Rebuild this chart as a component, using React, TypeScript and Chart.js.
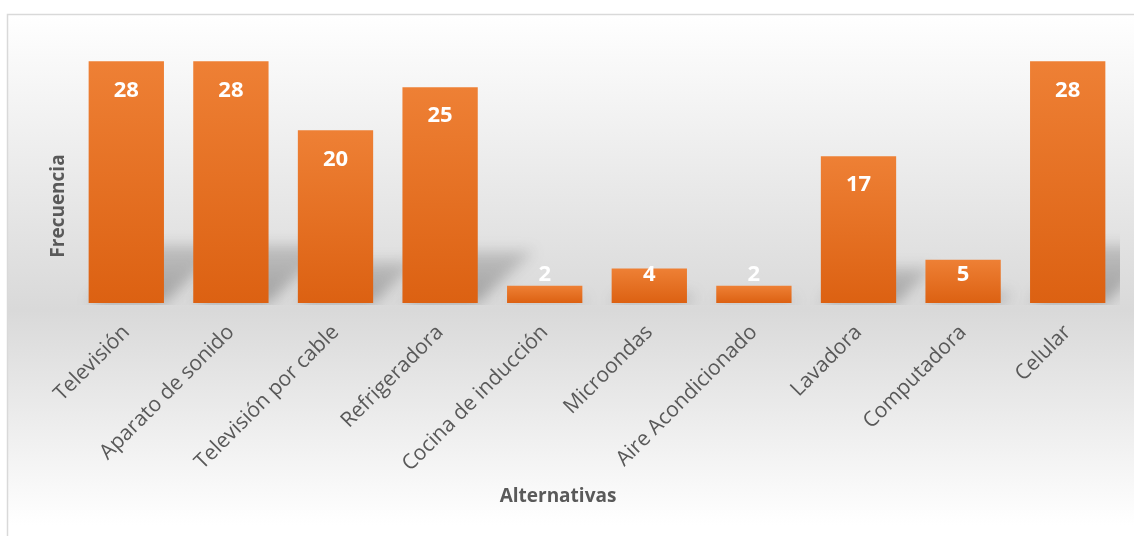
import React, { useEffect, useRef } from "react";
import { Chart, registerables } from "chart.js";

Chart.register(...registerables);

const categories = [
  "Televisión",
  "Aparato de sonido",
  "Televisión por cable",
  "Refrigeradora",
  "Cocina de inducción",
  "Microondas",
  "Aire Acondicionado",
  "Lavadora",
  "Computadora",
  "Celular",
];
const frecuencia = [28, 28, 20, 25, 2, 4, 2, 17, 5, 28];
const xTitle = "Alternativas";
const yTitle = "Frecuencia";

const FONT = "'Open Sans', 'DejaVu Sans', sans-serif";
const TEXT = "#595959";

const backgroundPlugin = {
  id: "bgPanel",
  beforeDraw(chart: any) {
    const ctx = chart.ctx;
    const x0 = 7, y0 = 14, x1 = chart.width + 5, y1 = chart.height + 5;
    ctx.save();
    const g = ctx.createLinearGradient(0, y0, 0, y1);
    g.addColorStop(0, "#ffffff");
    g.addColorStop((310 - y0) / (y1 - y0), "#d9d9d9");
    g.addColorStop((525 - y0) / (y1 - y0), "#ffffff");
    g.addColorStop(1, "#ffffff");
    ctx.fillStyle = g;
    ctx.fillRect(x0, y0, x1 - x0, y1 - y0);
    ctx.strokeStyle = "#d9d9d9";
    ctx.lineWidth = 1.5;
    ctx.strokeRect(x0 + 0.5, y0 + 0.5, x1 - x0, y1 - y0);
    ctx.restore();
  },
};

const shadowPlugin = {
  id: "barShadow",
  beforeDatasetsDraw(chart: any) {
    const ctx = chart.ctx;
    const area = chart.chartArea;
    const meta = chart.getDatasetMeta(0);
    ctx.save();
    ctx.beginPath();
    ctx.rect(area.left, area.top, area.right - area.left, area.bottom - area.top + 2);
    ctx.clip();
    ctx.filter = "blur(7px)";
    meta.data.forEach((bar: any) => {
      const p = bar.getProps(["x", "y", "base", "width"], true);
      const h = p.base - p.y;
      const sh = h * 0.24;
      const shift = h * 0.26;
      const l = p.x - p.width / 2;
      const r = p.x + p.width / 2;
      const g = ctx.createLinearGradient(0, p.base, 0, p.base - sh);
      g.addColorStop(0, "rgba(90,90,90,0.45)");
      g.addColorStop(1, "rgba(90,90,90,0.25)");
      ctx.fillStyle = g;
      ctx.beginPath();
      ctx.moveTo(l, p.base);
      ctx.lineTo(r, p.base);
      ctx.lineTo(r + shift, p.base - sh);
      ctx.lineTo(l + shift, p.base - sh);
      ctx.closePath();
      ctx.fill();
    });
    ctx.restore();
  },
};

const labelPlugin = {
  id: "barLabels",
  afterDatasetsDraw(chart: any) {
    const ctx = chart.ctx;
    const meta = chart.getDatasetMeta(0);
    const data = chart.data.datasets[0].data;
    ctx.save();
    ctx.fillStyle = "#ffffff";
    ctx.font = `bold 22px ${FONT}`;
    ctx.textAlign = "center";
    ctx.textBaseline = "middle";
    meta.data.forEach((bar: any, i: number) => {
      const p = bar.getProps(["x", "y", "base"], true);
      const y = Math.min(p.y + 29, p.base - 28);
      ctx.fillText(String(data[i]), p.x, y);
    });
    ctx.restore();
  },
};

const titlePlugin = {
  id: "axisTitles",
  afterDraw(chart: any) {
    const ctx = chart.ctx;
    ctx.save();
    ctx.fillStyle = TEXT;
    ctx.font = `bold 19px ${FONT}`;
    ctx.textAlign = "center";
    ctx.textBaseline = "middle";
    ctx.fillText(xTitle, 558, 497);
    ctx.translate(59, 206);
    ctx.rotate(-Math.PI / 2);
    ctx.fillText(yTitle, 0, 0);
    ctx.restore();
  },
};

export default function App() {
  const ref = useRef<HTMLCanvasElement | null>(null);

  useEffect(() => {
    if (!ref.current) return;
    const chart = new Chart(ref.current, {
      type: "bar",
      data: {
        labels: categories,
        datasets: [
          {
            label: yTitle,
            data: frecuencia,
            barPercentage: 0.72,
            categoryPercentage: 1,
            backgroundColor: (c: any) => {
              const chart = c.chart;
              const ys = chart.scales && chart.scales.y;
              if (!ys || !chart.chartArea || c.raw === undefined) return "#e8722a";
              const top = ys.getPixelForValue(c.raw);
              const base = ys.getPixelForValue(0);
              const g = chart.ctx.createLinearGradient(0, top, 0, base);
              g.addColorStop(0, "#ee8035");
              g.addColorStop(1, "#dc6112");
              return g;
            },
          },
        ],
      },
      options: {
        responsive: false,
        animation: false,
        maintainAspectRatio: false,
        layout: { padding: { left: 74, right: 14, top: 44, bottom: 0 } },
        plugins: {
          legend: { display: false },
          tooltip: { enabled: false },
          title: { display: false },
        },
        scales: {
          y: {
            display: false,
            min: 0,
            max: 30,
          },
          x: {
            grid: { display: false },
            border: { display: false },
            ticks: {
              color: TEXT,
              font: { family: FONT, size: 21 },
              minRotation: 45,
              maxRotation: 45,
              autoSkip: false,
              padding: 9,
            },
            afterFit: (scale: any) => {
              scale.height = 233;
            },
          },
        },
      },
      plugins: [backgroundPlugin, shadowPlugin, labelPlugin, titlePlugin],
    });
    return () => chart.destroy();
  }, []);

  return (
    <div style={{ position: "fixed", left: 0, top: 0, width: 1134, height: 536 }}>
      <canvas ref={ref} width={1134} height={536} style={{ display: "block" }} />
    </div>
  );
}
